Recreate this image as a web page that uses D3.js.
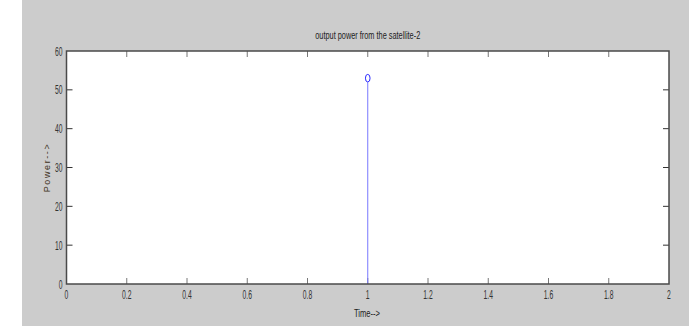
<!DOCTYPE html>
<html>
<head>
<meta charset="utf-8">
<script src="https://cdn.jsdelivr.net/npm/d3@7"></script>
<style>
  body { margin: 0; background: #fff; }
  svg { display: block; }
</style>
</head>
<body>
<div id="chart"></div>
<script>
// data
const timeValues = [1];
const powerValues = [53];
const xTicks = [0, 0.2, 0.4, 0.6, 0.8, 1, 1.2, 1.4, 1.6, 1.8, 2];
const yTicks = [0, 10, 20, 30, 40, 50, 60];
const titleText = "output power from the satellite-2";
const xLabel = "Time-->";
const yLabel = "Power-->";

let width = 689, height = 326;
let margin = { top: 51, right: 20, bottom: 42, left: 66.5 };
let plotW = width - margin.left - margin.right;
let plotH = height - margin.top - margin.bottom;

let svg = d3.select("#chart").append("svg")
    .attr("width", width)
    .attr("height", height);

// grey figure background with a white strip on the left
svg.append("rect").attr("x", 0).attr("y", 0).attr("width", width).attr("height", height).attr("fill", "#fff");
svg.append("rect").attr("x", 22).attr("y", 0).attr("width", width - 22).attr("height", height).attr("fill", "#cccccc");

let g = svg.append("g")
    .attr("transform", "translate(" + margin.left + "," + margin.top + ")");

let xScale = d3.scaleLinear().domain([0, 2]).range([0, plotW]);
let yScale = d3.scaleLinear().domain([0, 60]).range([plotH, 0]);

g.append("rect")
    .attr("width", plotW)
    .attr("height", plotH)
    .attr("fill", "#fff");

// squeezed text helper (narrow matlab font look)
function narrowText(parent, x, y, txt, size, sx, anchor, color) {
    let t = parent.append("g")
        .attr("transform", "translate(" + x + "," + y + ") scale(" + sx + ",1)")
        .append("text")
        .attr("text-anchor", anchor)
        .attr("font-family", "Liberation Sans, Arial, sans-serif")
        .attr("font-size", size)
        .attr("fill", color)
        .text(txt);
    return t;
}

// ticks inside the box on all four sides
let tickLen = 6;
xTicks.forEach(function(v) {
    let x = xScale(v);
    if (v > 0 && v < 2) {
        g.append("line").attr("x1", x).attr("x2", x).attr("y1", plotH).attr("y2", plotH - tickLen)
            .attr("stroke", "#777").attr("stroke-width", 1);
        g.append("line").attr("x1", x).attr("x2", x).attr("y1", 0).attr("y2", tickLen)
            .attr("stroke", "#777").attr("stroke-width", 1);
    }
    narrowText(g, x, plotH + 15, d3.format("")(v), 13, 0.52, "middle", "#333");
});
yTicks.forEach(function(v) {
    let y = yScale(v);
    if (v > 0 && v < 60) {
        g.append("line").attr("x1", 0).attr("x2", tickLen).attr("y1", y).attr("y2", y)
            .attr("stroke", "#333").attr("stroke-width", 1);
        g.append("line").attr("x1", plotW).attr("x2", plotW - tickLen).attr("y1", y).attr("y2", y)
            .attr("stroke", "#333").attr("stroke-width", 1);
    }
    narrowText(g, -4, y + 4.5, String(v), 13, 0.52, "end", "#333");
});

// stems
g.selectAll(".stem")
    .data(timeValues)
    .enter().append("line")
    .attr("class", "stem")
    .attr("x1", d => xScale(d))
    .attr("x2", d => xScale(d))
    .attr("y1", yScale(0))
    .attr("y2", (d, i) => yScale(powerValues[i]) + 4)
    .attr("stroke", "#7777ff")
    .attr("stroke-width", 1);

g.selectAll(".marker")
    .data(timeValues)
    .enter().append("ellipse")
    .attr("class", "marker")
    .attr("cx", d => xScale(d))
    .attr("cy", (d, i) => yScale(powerValues[i]))
    .attr("rx", 2.3)
    .attr("ry", 3.8)
    .attr("fill", "none")
    .attr("stroke", "#2a2aff")
    .attr("stroke-width", 1);

// box
g.append("rect")
    .attr("width", plotW)
    .attr("height", plotH)
    .attr("fill", "none")
    .attr("stroke", "#4a4a4a")
    .attr("stroke-width", 1.5);

// title and axis labels
narrowText(svg, margin.left + plotW / 2, 39, titleText, 11.5, 0.64, "middle", "#222");
narrowText(svg, 367, 317, xLabel, 11.5, 0.66, "middle", "#222");

svg.append("text")
    .attr("transform", "translate(50," + (margin.top + plotH / 2) + ") rotate(-90)")
    .attr("text-anchor", "middle")
    .attr("font-family", "Liberation Sans, Arial, sans-serif")
    .attr("font-size", 9)
    .attr("letter-spacing", 1.6)
    .attr("fill", "#3d3020")
    .text(yLabel);
</script>
</body>
</html>
